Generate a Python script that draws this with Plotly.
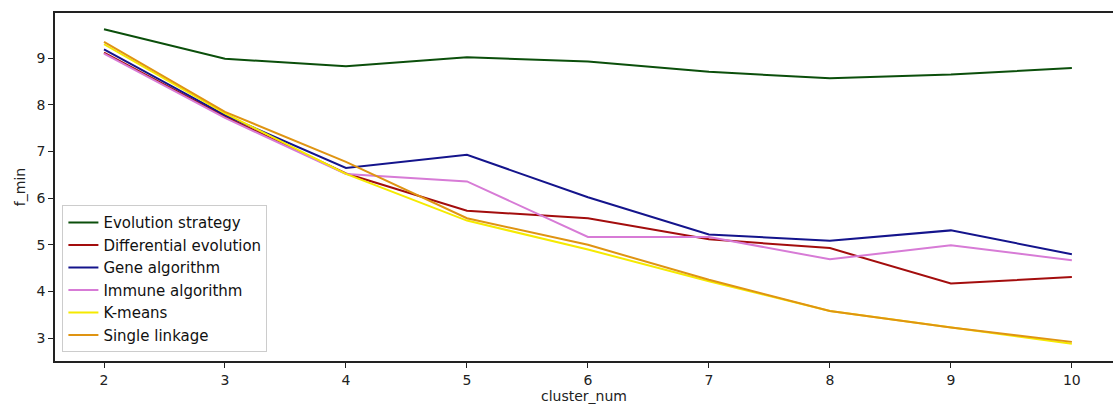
import plotly.graph_objects as go

cluster_num = [2, 3, 4, 5, 6, 7, 8, 9, 10]
evolution_strategy = [9.62, 8.99, 8.83, 9.02, 8.93, 8.71, 8.57, 8.65, 8.79]
differential_evolution = [9.12, 7.75, 6.53, 5.73, 5.57, 5.12, 4.93, 4.17, 4.31]
gene_algorithm = [9.19, 7.78, 6.65, 6.93, 6.02, 5.22, 5.09, 5.31, 4.80]
immune_algorithm = [9.10, 7.72, 6.52, 6.36, 5.17, 5.17, 4.69, 4.99, 4.67]
k_means = [9.30, 7.82, 6.52, 5.52, 4.90, 4.22, 3.58, 3.23, 2.88]
single_linkage = [9.35, 7.85, 6.78, 5.57, 5.00, 4.25, 3.58, 3.23, 2.92]

series = [
    ("Evolution strategy", evolution_strategy, "#0b4f0b"),
    ("Differential evolution", differential_evolution, "#a30d0d"),
    ("Gene algorithm", gene_algorithm, "#14148c"),
    ("Immune algorithm", immune_algorithm, "#d77bd6"),
    ("K-means", k_means, "#f5ea00"),
    ("Single linkage", single_linkage, "#df9412"),
]

fig = go.Figure()
for name, vals, color in series:
    fig.add_trace(go.Scatter(x=cluster_num, y=vals, mode="lines", name=name,
                             line=dict(color=color, width=2)))

font = "DejaVu Sans"
fig.update_layout(
    width=1113, height=412,
    margin=dict(l=55, r=0, t=13, b=51),
    paper_bgcolor="white", plot_bgcolor="white",
    font=dict(family=font, size=14, color="#222"),
    showlegend=True,
    legend=dict(x=0.007, y=0.025, xanchor="left", yanchor="bottom",
                bgcolor="rgba(255,255,255,0.9)", bordercolor="#cccccc", borderwidth=1,
                font=dict(family=font, size=15, color="#111"),
                tracegroupgap=0, itemwidth=30),
    xaxis=dict(range=[1.595, 10.34], tickvals=cluster_num, ticks="outside", ticklen=5,
               tickcolor="#222", showgrid=False, zeroline=False,
               showline=True, linecolor="#222", linewidth=1.5, mirror=True,
               title=dict(text="cluster_num", font=dict(family=font, size=14), standoff=4)),
    yaxis=dict(range=[2.51, 9.97], tickvals=[3, 4, 5, 6, 7, 8, 9], ticks="outside", ticklen=5,
               tickcolor="#222", showgrid=False, zeroline=False,
               showline=True, linecolor="#222", linewidth=1.5,
               title=dict(text="f_min", font=dict(family=font, size=14), standoff=8)),
)

fig.write_html("out.html")
